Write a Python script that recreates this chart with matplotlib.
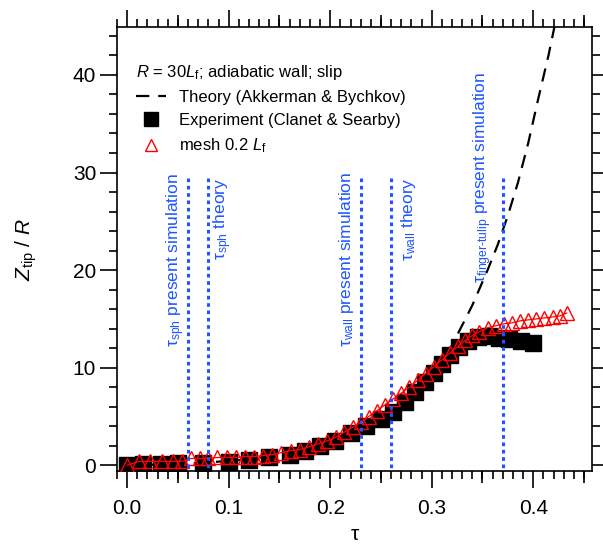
"""Flame tip position Z_tip/R versus tau for R = 30 L_f (adiabatic wall, slip)."""

from matplotlib import pyplot as plt
from matplotlib.ticker import MultipleLocator, NullFormatter
import numpy as np

plt.rcParams['font.family'] = ['Liberation Sans', 'DejaVu Sans']
plt.rcParams['mathtext.fontset'] = 'custom'
plt.rcParams['mathtext.rm'] = 'Liberation Sans'
plt.rcParams['mathtext.it'] = 'Liberation Sans:italic'
plt.rcParams['mathtext.default'] = 'regular'

# Theory (Akkerman & Bychkov)
theory_tau = [0.0, 0.04, 0.08, 0.12, 0.16, 0.20, 0.23, 0.26, 0.28, 0.30,
              0.32, 0.34, 0.355, 0.365, 0.375, 0.385, 0.395, 0.405, 0.415, 0.425]
theory_z = [0.0, 0.1, 0.3, 0.6, 1.2, 2.3, 3.5, 5.4, 7.2, 9.4,
            12.3, 16.4, 20.0, 22.6, 25.6, 29.0, 33.0, 37.6, 42.0, 47.0]

# Experiment (Clanet & Searby)
exp_tau = [0.0, 0.016, 0.033, 0.05, 0.075, 0.10, 0.12, 0.14, 0.16, 0.175,
           0.19, 0.205, 0.22, 0.235, 0.25, 0.262, 0.274, 0.284, 0.293, 0.302,
           0.31, 0.318, 0.327, 0.336, 0.346, 0.356, 0.366, 0.376, 0.388, 0.40]
exp_z = [0.0, 0.1, 0.15, 0.2, 0.2, 0.3, 0.5, 0.8, 1.1, 1.5,
         2.0, 2.5, 3.3, 4.0, 4.7, 5.5, 6.5, 7.5, 8.5, 9.5,
         10.4, 11.3, 12.1, 12.7, 13.1, 13.2, 13.0, 12.9, 12.7, 12.5]

# Simulation, mesh 0.2 L_f
sim_tau = [0.000, 0.012, 0.023, 0.034, 0.045, 0.054, 0.063, 0.072, 0.080, 0.089,
           0.098, 0.107, 0.116, 0.125, 0.134, 0.143, 0.152, 0.161, 0.170, 0.179,
           0.188, 0.197, 0.206, 0.214, 0.222, 0.230, 0.238, 0.246, 0.254, 0.262,
           0.270, 0.278, 0.286, 0.294, 0.302, 0.310, 0.318, 0.326, 0.333, 0.340,
           0.347, 0.355, 0.363, 0.371, 0.379, 0.387, 0.395, 0.403, 0.411, 0.419,
           0.426, 0.433]
sim_z = [0.0, 0.4, 0.4, 0.4, 0.4, 0.4, 0.7, 0.7, 0.7, 0.8,
         0.8, 0.8, 0.9, 0.9, 1.0, 1.1, 1.3, 1.5, 1.6, 1.9,
         2.2, 2.5, 2.9, 3.4, 3.9, 4.4, 5.0, 5.6, 6.2, 6.8,
         7.4, 8.0, 8.7, 9.4, 10.1, 10.8, 11.5, 12.2, 12.8, 13.3,
         13.7, 14.1, 14.3, 14.5, 14.6, 14.8, 14.9, 15.0, 15.1, 15.2,
         15.3, 15.6]

# characteristic times (vertical markers) and their annotations
marker_tau = [0.06, 0.08, 0.23, 0.26, 0.37]
marker_text = [r'$τ_{sph}$ present simulation',
               r'$τ_{sph}$ theory',
               r'$τ_{wall}$ present simulation',
               r'$τ_{wall}$ theory',
               r'$τ_{finger\text{-}tulip}$ present simulation']
text_tau = [0.0475, 0.0945, 0.2165, 0.2775, 0.3505]
text_z = [12.1, 29.5, 12.1, 29.5, 18.7]
text_va = ['bottom', 'top', 'bottom', 'top', 'bottom']

blue = '#1f55ff'

fig = plt.figure(figsize=(6.03, 5.53), dpi=100)
ax = fig.add_axes([0.194, 0.148, 0.788, 0.803])

ax.plot(theory_tau, theory_z, color='black', lw=1.6, ls=(0, (6, 4)),
        zorder=2, label='Theory (Akkerman & Bychkov)')
ax.plot(exp_tau, exp_z, ls='none', marker='s', ms=12, color='black',
        zorder=3, label='Experiment (Clanet & Searby)')
ax.plot(sim_tau, sim_z, color='red', lw=0.9, zorder=4)
ax.plot(sim_tau, sim_z, ls='none', marker='^', ms=10, mfc='none', mec='red',
        mew=1.0, zorder=5, label=r'mesh 0.2 $\mathit{L}_{f}$')

for t in marker_tau:
    ax.plot([t, t], [-1, 29.5], color=blue, lw=2.2, ls=(0, (1.2, 1.2)), zorder=6)
for t, s, z, va in zip(text_tau, marker_text, text_z, text_va):
    ax.text(t, z, s, rotation=90, color=blue, fontsize=12.5,
            ha='center', va=va, zorder=6)

ax.set_xlim(-0.01, 0.458)
ax.set_ylim(-0.6, 44.9)

ax.xaxis.set_major_locator(MultipleLocator(0.1))
ax.xaxis.set_minor_locator(MultipleLocator(0.01))
ax.yaxis.set_major_locator(MultipleLocator(10))
ax.yaxis.set_minor_locator(MultipleLocator(2))
ax.xaxis.set_major_formatter(lambda v, pos: f'{v:.1f}')

ax.tick_params(which='both', direction='out', top=True, right=True,
               width=1.2, labelsize=15)
ax.tick_params(which='major', length=12, pad=8)
ax.tick_params(which='minor', length=6)
ax.tick_params(axis='y', which='major', length=12, pad=3)
for spine in ax.spines.values():
    spine.set_linewidth(1.2)

# half-way ticks at every 0.05 on bottom and top
for side in ['bottom', 'top']:
    sec = ax.secondary_xaxis(side)
    sec.set_xticks(np.arange(0.05, 0.46, 0.1))
    sec.xaxis.set_major_formatter(NullFormatter())
    sec.tick_params(direction='out', length=8.5, width=1.2)
    sec.spines[side].set_visible(False)

ax.set_xlabel('τ', fontsize=15, labelpad=5)
ax.set_ylabel(r'$\mathit{Z}_{tip}$ / $\mathit{R}$', fontsize=15, labelpad=24)

leg = ax.legend(loc='upper left', bbox_to_anchor=(0.04, 0.92), frameon=False,
                title=r'$\mathit{R}$ = 30$\mathit{L}_{f}$; adiabatic wall; slip',
                alignment='left', fontsize=12, title_fontsize=12,
                handlelength=1.8, handletextpad=0.8, labelspacing=0.5,
                markerscale=0.8, borderpad=0, borderaxespad=0)

fig.savefig('out.png', dpi=100)
